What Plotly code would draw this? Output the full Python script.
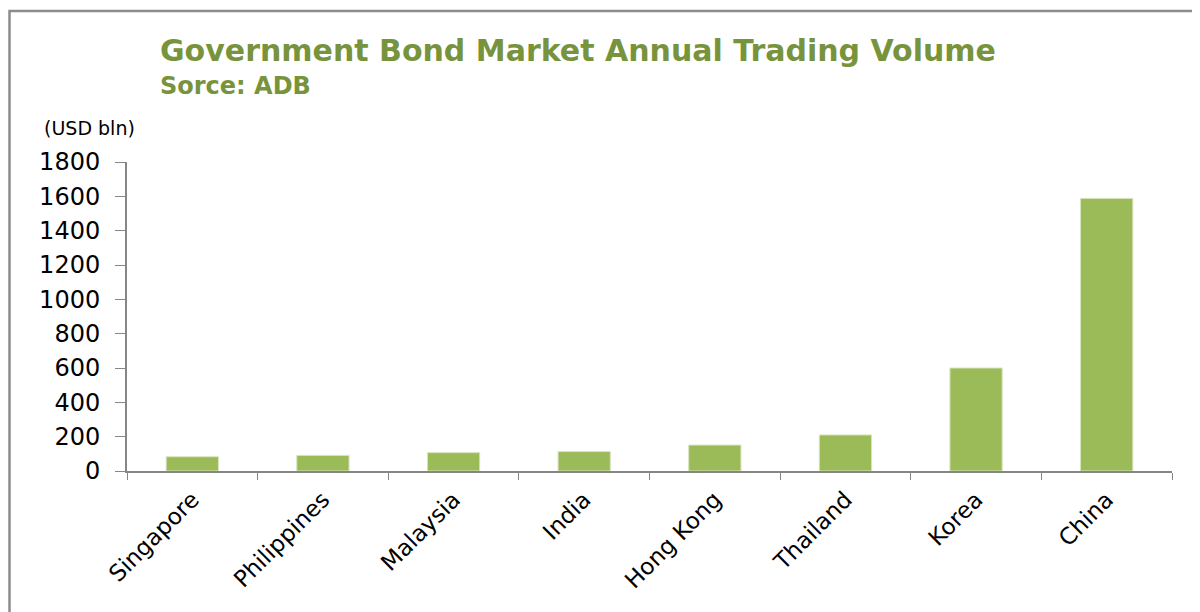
import plotly.graph_objects as go

categories = ["Singapore", "Philippines", "Malaysia", "India", "Hong Kong", "Thailand", "Korea", "China"]
volumes = [83, 91, 107, 113, 151, 210, 600, 1588]
y_ticks = [0, 200, 400, 600, 800, 1000, 1200, 1400, 1600, 1800]

# The page body has an 8px margin; work in screen coordinates and compensate.
OFF = 8
W, H = 1200, 612
PX0, PX1, PY0, PY1 = 127, 1172, 162, 471  # plot area in screen px
L = PX0 - OFF
T = PY0 - OFF
R = W - (PX1 - OFF)
B = H - (PY1 - OFF)
pw, ph = PX1 - PX0, PY1 - PY0

def px(x):
    return (x - PX0) / pw

def py(y):
    return (PY1 - y) / ph

green = "#9BBB59"
title_green = "#77933C"
axis_gray = "#868686"
font_family = "'DejaVu Sans', sans-serif"

fig = go.Figure(go.Bar(
    x=categories, y=volumes,
    marker=dict(color=green, line=dict(color="#D7E4BD", width=1)),
    width=0.4,
))

fig.update_layout(
    width=W, height=H,
    margin=dict(l=L, r=R, t=T, b=B),
    paper_bgcolor="white", plot_bgcolor="white",
    showlegend=False,
    font=dict(family=font_family, color="#000000"),
    xaxis=dict(
        type="category", tickson="boundaries", ticks="outside", ticklen=7,
        tickcolor=axis_gray, showline=True, linecolor=axis_gray, linewidth=2,
        tickangle=-45, tickfont=dict(size=23, family=font_family, color="#000"),
        ticklabelstandoff=4,
        showgrid=False, mirror=False,
    ),
    yaxis=dict(
        range=[0, 1800], tickvals=y_ticks, ticks="outside", ticklen=10,
        tickcolor=axis_gray, showline=True, linecolor=axis_gray, linewidth=2,
        tickfont=dict(size=24, family=font_family, color="#000"),
        ticklabelstandoff=10,
        showgrid=False, zeroline=False,
    ),
    annotations=[
        dict(text="<b>Government Bond Market Annual Trading Volume</b>", x=px(158), y=py(50),
             xref="paper", yref="paper", xanchor="left", yanchor="middle", showarrow=False,
             font=dict(size=30, color=title_green, family=font_family)),
        dict(text="<b>Sorce: ADB</b>", x=px(158), y=py(86),
             xref="paper", yref="paper", xanchor="left", yanchor="middle", showarrow=False,
             font=dict(size=24, color=title_green, family=font_family)),
        dict(text="(USD bln)", x=px(42), y=py(128),
             xref="paper", yref="paper", xanchor="left", yanchor="middle", showarrow=False,
             font=dict(size=19, color="#000", family=font_family)),
    ],
    shapes=[
        dict(type="rect", xref="paper", yref="paper",
             x0=px(9.5), x1=px(1230), y0=py(11), y1=py(660),
             line=dict(color="#8C8C8C", width=2.5), fillcolor="rgba(0,0,0,0)", layer="above"),
    ],
)

fig.write_html("out.html")
